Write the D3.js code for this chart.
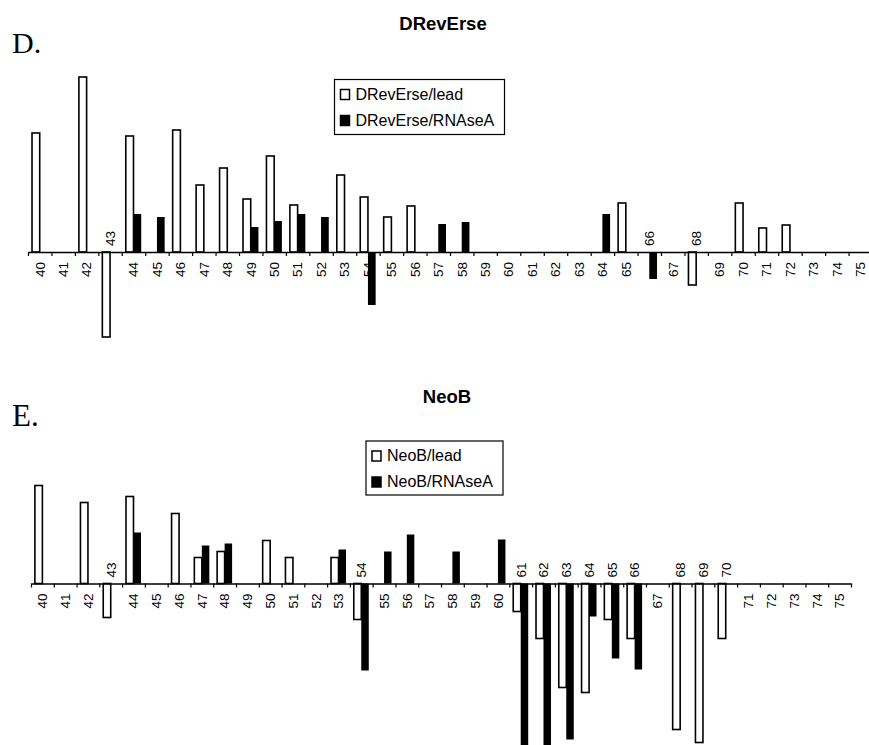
<!DOCTYPE html>
<html>
<head>
<meta charset="utf-8">
<script src="https://cdn.jsdelivr.net/npm/d3@7/dist/d3.min.js"></script>
<style>
body { margin: 0; background: #fff; }
svg { display: block; font-family: "Liberation Sans", Arial, sans-serif; }
</style>
</head>
<body>
<div id="chart"></div>
<script>

// residue numbers on the category axis
var positions = [40, 41, 42, 43, 44, 45, 46, 47, 48, 49, 50, 51, 52, 53, 54, 55, 56, 57,
                 58, 59, 60, 61, 62, 63, 64, 65, 66, 67, 68, 69, 70, 71, 72, 73, 74, 75];

// D. DRevErse (relative intensity)
var drevLead  = [119, 0, 175, -85, 116, 0, 122, 67, 84, 53, 96, 47, 0, 77, 55, 35, 46, 0,
                 0, 0, 0, 0, 0, 0, 0, 49, 0, 0, -33, 0, 49, 24, 27, 0, 0, 0];
var drevRnase = [0, 0, 0, 0, 38, 35, 0, 0, 0, 25, 31, 38, 35, 0, -53, 0, 0, 28,
                 30, 0, 0, 0, 0, 0, 38, 0, -27, 0, 0, 0, 0, 0, 0, 0, 0, 0];
var drevAbove = [43, 66, 68];
var drevSeries = ["DRevErse/lead", "DRevErse/RNAseA"];

// E. NeoB
var neoLead  = [98, 0, 81, -34, 87, 0, 70, 26, 32, 0, 43, 26, 0, 26, -36, 0, 0, 0,
                0, 0, 0, -28, -55, -104, -109, -36, -55, 0, -146, -159, -55, 0, 0, 0, 0, 0];
var neoRnase = [0, 0, 0, 0, 51, 0, 0, 38, 40, 0, 0, 0, 0, 34, -87, 32, 49, 0,
                32, 0, 44, -175, -175, -156, -33, -75, -86, 0, 0, 0, 0, 0, 0, 0, 0, 0];
var neoAbove = [43, 54, 61, 62, 63, 64, 65, 66, 68, 69, 70];
var neoSeries = ["NeoB/lead", "NeoB/RNAseA"];

var width = 869, height = 745;

var svg = d3.select("#chart").append("svg")
  .attr("width", width)
  .attr("height", height);

function drawPanel(p) {

  var x = d3.scaleBand()
    .domain(positions)
    .range([p.x0, p.x1])
    .paddingInner(0)
    .paddingOuter(0);

  var xs = d3.scaleBand()
    .domain([0, 1])
    .range([0, x.bandwidth()])
    .paddingInner(0)
    .paddingOuter(0.52);

  var y = d3.scaleLinear()
    .domain([-200, 200])
    .range([p.axisY + 200, p.axisY - 200]);

  var g = svg.append("g");

  // letter and title
  g.append("text")
    .attr("x", 12)
    .attr("y", p.letterY)
    .style("font-family", "'Liberation Serif', 'Times New Roman', serif")
    .style("font-size", p.letterSize + "px")
    .text(p.letter);

  g.append("text")
    .attr("x", p.titleX)
    .attr("y", p.titleY)
    .attr("text-anchor", "middle")
    .style("font-weight", "bold")
    .style("font-size", "18.5px")
    .text(p.title);

  // bars
  var rows = [];
  positions.forEach(function(pos, i) {
    if (p.lead[i] !== 0) rows.push({pos: pos, s: 0, v: p.lead[i]});
    if (p.rnase[i] !== 0) rows.push({pos: pos, s: 1, v: p.rnase[i]});
  });

  g.selectAll(".bar")
    .data(rows)
    .enter().append("rect")
    .attr("class", "bar")
    .attr("x", function(d) { return x(d.pos) + xs(d.s); })
    .attr("width", xs.bandwidth())
    .attr("y", function(d) { return y(Math.max(0, d.v)); })
    .attr("height", function(d) { return Math.abs(y(d.v) - y(0)); })
    .style("fill", function(d) { return d.s === 0 ? "#fff" : "#000"; })
    .style("stroke", "#000")
    .style("stroke-width", function(d) { return d.s === 0 ? 1.6 : 0; });

  // axis with ticks on the band edges
  var edges = d3.scaleLinear()
    .domain([0, positions.length])
    .range([p.x0, p.x1]);

  var axis = g.append("g")
    .attr("transform", "translate(0," + p.axisY + ")")
    .call(d3.axisBottom(edges)
      .tickValues(d3.range(0, positions.length + 1))
      .tickFormat("")
      .tickSize(4)
      .tickSizeOuter(0));
  axis.select(".domain").style("stroke-width", 1.5);
  axis.selectAll(".tick line").style("stroke-width", 1.2);

  // rotated category labels, some lifted above the axis
  g.selectAll(".lab")
    .data(positions)
    .enter().append("text")
    .attr("class", "lab")
    .attr("transform", function(d) {
      var cx = x(d) + x.bandwidth() / 2;
      var up = p.above.indexOf(d) >= 0;
      return "translate(" + cx + "," + (up ? p.axisY - 6 : p.axisY + 10) + ") rotate(-90)";
    })
    .attr("text-anchor", function(d) { return p.above.indexOf(d) >= 0 ? "start" : "end"; })
    .attr("dy", "0.36em")
    .style("font-size", "13.5px")
    .text(function(d) { return d; });

  // legend
  var lg = g.append("g");
  lg.append("rect")
    .attr("x", p.legend.x)
    .attr("y", p.legend.y)
    .attr("width", p.legend.w)
    .attr("height", p.legend.h)
    .style("fill", "#fff")
    .style("stroke", "#000")
    .style("stroke-width", 1.2);

  p.series.forEach(function(name, i) {
    var ly = p.legend.y + 15 + i * 26;
    lg.append("rect")
      .attr("x", p.legend.x + 6)
      .attr("y", ly - 5)
      .attr("width", 9)
      .attr("height", 10)
      .style("fill", i === 0 ? "#fff" : "#000")
      .style("stroke", "#000")
      .style("stroke-width", 1.5);
    lg.append("text")
      .attr("x", p.legend.x + 21)
      .attr("y", ly + 5)
      .style("font-size", "16px")
      .text(name);
  });
}

drawPanel({
  letter: "D.", letterY: 53, letterSize: 30,
  title: "DRevErse", titleX: 443, titleY: 30,
  lead: drevLead, rnase: drevRnase, above: drevAbove, series: drevSeries,
  x0: 28, x1: 872, axisY: 252,
  legend: {x: 334.5, y: 79.5, w: 170, h: 55}
});

drawPanel({
  letter: "E.", letterY: 426, letterSize: 31,
  title: "NeoB", titleX: 447, titleY: 403,
  lead: neoLead, rnase: neoRnase, above: neoAbove, series: neoSeries,
  x0: 31, x1: 851, axisY: 583.5,
  legend: {x: 366, y: 441, w: 137, h: 54}
});

</script>
</body>
</html>
